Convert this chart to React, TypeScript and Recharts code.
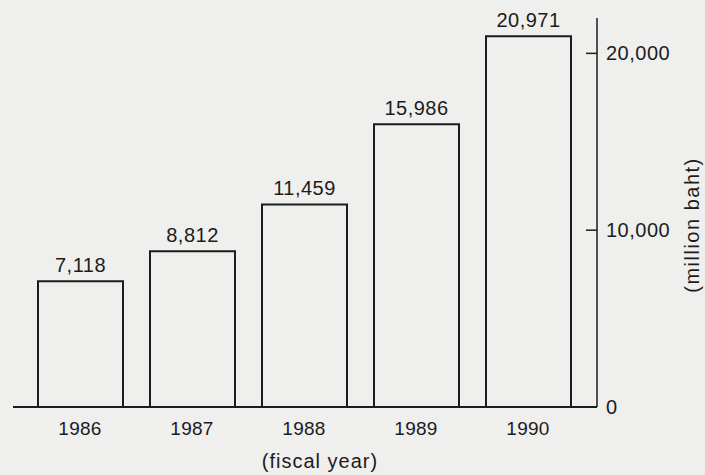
import React from 'react';
import { Bar, BarChart, LabelList, XAxis, YAxis } from 'recharts';

const years = ['1986', '1987', '1988', '1989', '1990'];
const budget = [7118, 8812, 11459, 15986, 20971];
const yTicks = [0, 10000, 20000];

const data = years.map((year, i) => ({ year, value: budget[i] }));

const ink = '#1c1c1c';
const font = '"Liberation Sans", Arial, Helvetica, sans-serif';

const fmt = (v: number) => v.toLocaleString('en-US');

// ticks point inward (to the left of the axis line), text sits right of it
const RightTick = (props: any) => {
  const { x, y, payload } = props;
  return (
    <g>
      <line x1={x - 11} y1={y} x2={x} y2={y} stroke={ink} strokeWidth={1.5} />
      <text x={x + 9} y={y} dy={7} fill={ink} fontSize={20} letterSpacing={0.5} fontFamily={font}>
        {fmt(payload.value)}
      </text>
    </g>
  );
};

const App = () => {
  return (
    <div style={{ position: 'absolute', left: 0, top: 0, width: 705, height: 475, background: '#efefed' }}>
      <BarChart
        width={705}
        height={475}
        data={data}
        margin={{ top: 18, right: 28, bottom: 8, left: 13 }}
        barSize={85}
      >
        <XAxis
          dataKey='year'
          axisLine={{ stroke: ink, strokeWidth: 2 }}
          tickLine={false}
          tickMargin={9}
          height={60}
          padding={{ left: 11, right: 13 }}
          tick={{ fill: ink, fontSize: 19, letterSpacing: 0.3, fontFamily: font }}
          label={{
            content: () => (
              <text
                x={320}
                y={468}
                textAnchor='middle'
                fill={ink}
                fontSize={20}
                letterSpacing={1}
                fontFamily={font}
              >
                (fiscal year)
              </text>
            ),
          }}
        />
        <YAxis
          orientation='right'
          domain={[0, 22000]}
          ticks={yTicks}
          allowDataOverflow
          width={80}
          axisLine={{ stroke: ink, strokeWidth: 1.5 }}
          tickLine={false}
          tickSize={0}
          tickMargin={0}
          tick={<RightTick />}
          label={{
            content: () => (
              <text
                x={699}
                y={225}
                textAnchor='middle'
                transform='rotate(-90 699 225)'
                fill={ink}
                fontSize={20}
                letterSpacing={1.5}
                fontFamily={font}
              >
                (million baht)
              </text>
            ),
          }}
        />
        <Bar dataKey='value' fill='none' stroke={ink} strokeWidth={2} isAnimationActive={false}>
          <LabelList
            dataKey='value'
            position='top'
            offset={9}
            formatter={(v: any) => fmt(Number(v))}
            style={{ fill: ink, fontSize: 20, letterSpacing: 0.5, fontFamily: font }}
          />
        </Bar>
      </BarChart>
    </div>
  );
};

export default App;
